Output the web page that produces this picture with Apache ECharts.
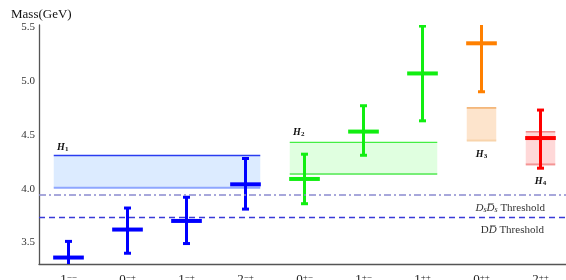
<!DOCTYPE html>
<html>
<head>
<meta charset="utf-8">
<script src="https://cdn.jsdelivr.net/npm/echarts@6/dist/echarts.min.js"></script>
<style>
html, body { margin: 0; padding: 0; background: #fff; }
#chart { width: 566px; height: 280px; }
</style>
</head>
<body>
<div id="chart"></div>
<script>
// J^PC states
var categories = ['1--', '0-+', '1-+', '2-+', '0+-', '1+-', '1++', '0++', '2++'];
// mass (GeV) with lower / upper end of the error bar
var massCenter = [3.36, 3.62, 3.70, 4.04, 4.09, 4.53, 5.07, 5.35, 4.47];
var massLow = [3.21, 3.40, 3.49, 3.81, 3.86, 4.31, 4.63, 4.90, 4.19];
var massHigh = [3.51, 3.82, 3.92, 4.28, 4.32, 4.77, 5.51, 5.62, 4.73];
var pointColors = ['#0000ff', '#0000ff', '#0000ff', '#0000ff', '#11ee11', '#11ee11', '#11ee11', '#ff8000', '#ff0000'];

// mass bands H1..H4 (category range and mass range)
var bandNames = ['1', '2', '3', '4'];
var bandFrom = [0, 4, 7, 8];
var bandTo = [3, 6, 7, 8];
var bandLow = [4.008, 4.135, 4.447, 4.225];
var bandHigh = [4.308, 4.43, 4.75, 4.528];
var bandFill = ['#dcebff', '#e0ffe0', '#fde4cc', '#ffd8d8'];
var bandTop = ['#2a3cf0', '#44ee44', '#f0a050', '#f07878'];
var bandBottom = ['#8ea6ff', '#77ee77', '#f8d4ac', '#f49494'];
var bandLabelSide = ['top', 'top', 'bottom', 'bottom'];
var bandLabelGap = [8, 10, 14, 17];

// thresholds
var ddThreshold = 3.73;
var dsdsThreshold = 3.94;

var yMajor = [3.5, 4.0, 4.5, 5.0, 5.5];

var serif = '"Liberation Serif", "DejaVu Serif", serif';

var chart = echarts.init(document.getElementById('chart'));

var crossData = categories.map(function (c, i) {
    return [i, massCenter[i], massLow[i], massHigh[i]];
});
var bandData = bandNames.map(function (n, i) {
    return [bandFrom[i], bandTo[i], bandLow[i], bandHigh[i]];
});

function supLabel(v) {
    var s = v.slice(1).replace(/-/g, '\u2212');
    return '{n|' + v.charAt(0) + '}{s|' + s + '}';
}

function renderBand(params, api) {
    var i = params.dataIndex;
    var bw = api.size([1, 0])[0];
    var p0 = api.coord([api.value(0), api.value(3)]);
    var p1 = api.coord([api.value(1), api.value(2)]);
    var x0 = p0[0] - bw * 0.25, x1 = p1[0] + bw * 0.25;
    var yt = p0[1], yb = p1[1];
    var lx, ly;
    if (bandLabelSide[i] === 'top') {
        lx = x0 + 9; ly = yt - bandLabelGap[i];
    } else {
        lx = (x0 + x1) / 2; ly = yb + bandLabelGap[i];
    }
    return {
        type: 'group',
        children: [
            { type: 'rect', shape: { x: x0, y: yt, width: x1 - x0, height: yb - yt }, style: { fill: bandFill[i] } },
            { type: 'line', shape: { x1: x0, y1: yt, x2: x1, y2: yt }, style: { stroke: bandTop[i], lineWidth: 1.3 } },
            { type: 'line', shape: { x1: x0, y1: yb, x2: x1, y2: yb }, style: { stroke: bandBottom[i], lineWidth: 2 } },
            {
                type: 'text', x: lx, y: ly,
                style: {
                    text: '{h|H}{b|' + bandNames[i] + '}',
                    align: 'center', verticalAlign: 'middle',
                    rich: {
                        h: { fontFamily: serif, fontSize: 10, fontWeight: 'bold', fontStyle: 'italic', fill: '#111' },
                        b: { fontFamily: serif, fontSize: 7, fontWeight: 'bold', fill: '#111', padding: [4, 0, 0, 0] }
                    }
                }
            }
        ]
    };
}

function renderCross(params, api) {
    var i = api.value(0);
    var col = pointColors[params.dataIndex];
    var c = api.coord([i, api.value(1)]);
    var lo = api.coord([i, api.value(2)]);
    var hi = api.coord([i, api.value(3)]);
    var half = api.size([1, 0])[0] * 0.26;
    return {
        type: 'group',
        children: [
            { type: 'line', shape: { x1: c[0], y1: lo[1], x2: c[0], y2: hi[1] }, style: { stroke: col, lineWidth: 3 } },
            { type: 'line', shape: { x1: c[0] - 3.5, y1: lo[1], x2: c[0] + 3.5, y2: lo[1] }, style: { stroke: col, lineWidth: 3 } },
            { type: 'line', shape: { x1: c[0] - 3.5, y1: hi[1], x2: c[0] + 3.5, y2: hi[1] }, style: { stroke: col, lineWidth: 3 } },
            { type: 'line', shape: { x1: c[0] - half, y1: c[1], x2: c[0] + half, y2: c[1] }, style: { stroke: col, lineWidth: 4 } }
        ]
    };
}

var option = {
    animation: false,
    title: {
        text: 'Mass(GeV)',
        left: 6, top: 3,
        textStyle: { fontFamily: serif, fontSize: 13, fontWeight: 'normal', color: '#111' }
    },
    grid: { left: 39, top: 25, width: 531, height: 239, containLabel: false, outerBoundsMode: 'none' },
    xAxis: {
        type: 'category',
        data: categories,
        axisLine: { lineStyle: { color: '#555', width: 1.3 } },
        axisTick: { inside: true, alignWithLabel: true, interval: 0, length: 4, lineStyle: { color: '#555' } },
        axisLabel: {
            margin: 9,
            interval: 0,
            formatter: supLabel,
            rich: {
                n: { fontFamily: serif, fontSize: 13, color: '#222' },
                s: { fontFamily: serif, fontSize: 9, color: '#222', verticalAlign: 'top' }
            }
        },
        splitLine: { show: false }
    },
    yAxis: [{
        type: 'value',
        min: 3.3, max: 5.52, interval: 0.1,
        axisLine: { show: true, lineStyle: { color: '#555', width: 1.3 } },
        axisTick: { inside: true, length: 3, lineStyle: { color: '#555' } },
        axisLabel: { show: false },
        splitLine: { show: false }
    }, {
        type: 'value',
        position: 'left',
        min: 3.3, max: 5.52,
        axisLine: { show: false },
        axisTick: { inside: true, length: 5, customValues: yMajor, lineStyle: { color: '#555' } },
        axisLabel: {
            margin: 4,
            customValues: yMajor,
            formatter: function (v) { return v.toFixed(1); },
            fontFamily: serif, fontSize: 11, color: '#333'
        },
        splitLine: { show: false }
    }],
    series: [{
        type: 'custom',
        clip: true,
        renderItem: renderBand,
        data: bandData,
        silent: true,
        markLine: {
            silent: true,
            symbol: 'none',
            lineStyle: { color: '#3a3ad8', width: 1.4, type: [6, 4] },
            data: [{
                yAxis: dsdsThreshold,
                lineStyle: { color: '#8a8ad0', width: 1.5, type: [7, 3, 2, 3] },
                label: {
                    position: 'insideEndBottom', distance: 7, padding: [0, 18, 0, 0],
                    formatter: '{i|D}{sub|s}{i|D\u0305}{sub|s}{t| Threshold}',
                    rich: {
                        i: { fontFamily: serif, fontStyle: 'italic', fontSize: 11, color: '#333' },
                        sub: { fontFamily: serif, fontStyle: 'italic', fontSize: 8, color: '#333', padding: [4, 0, 0, 0] },
                        t: { fontFamily: serif, fontSize: 11, color: '#333' }
                    }
                }
            }, {
                yAxis: ddThreshold,
                lineStyle: { color: '#3a3ad8', width: 1.4, type: [6, 4] },
                label: {
                    position: 'insideEndBottom', distance: 7, padding: [0, 19, 0, 0],
                    formatter: '{t|D}{i|D\u0305}{t| Threshold}',
                    rich: {
                        i: { fontFamily: serif, fontStyle: 'italic', fontSize: 11, color: '#333' },
                        t: { fontFamily: serif, fontSize: 11, color: '#333' }
                    }
                }
            }]
        }
    }, {
        type: 'custom',
        clip: true,
        renderItem: renderCross,
        data: crossData,
        silent: true
    }]
};

chart.setOption(option);
</script>
</body>
</html>
